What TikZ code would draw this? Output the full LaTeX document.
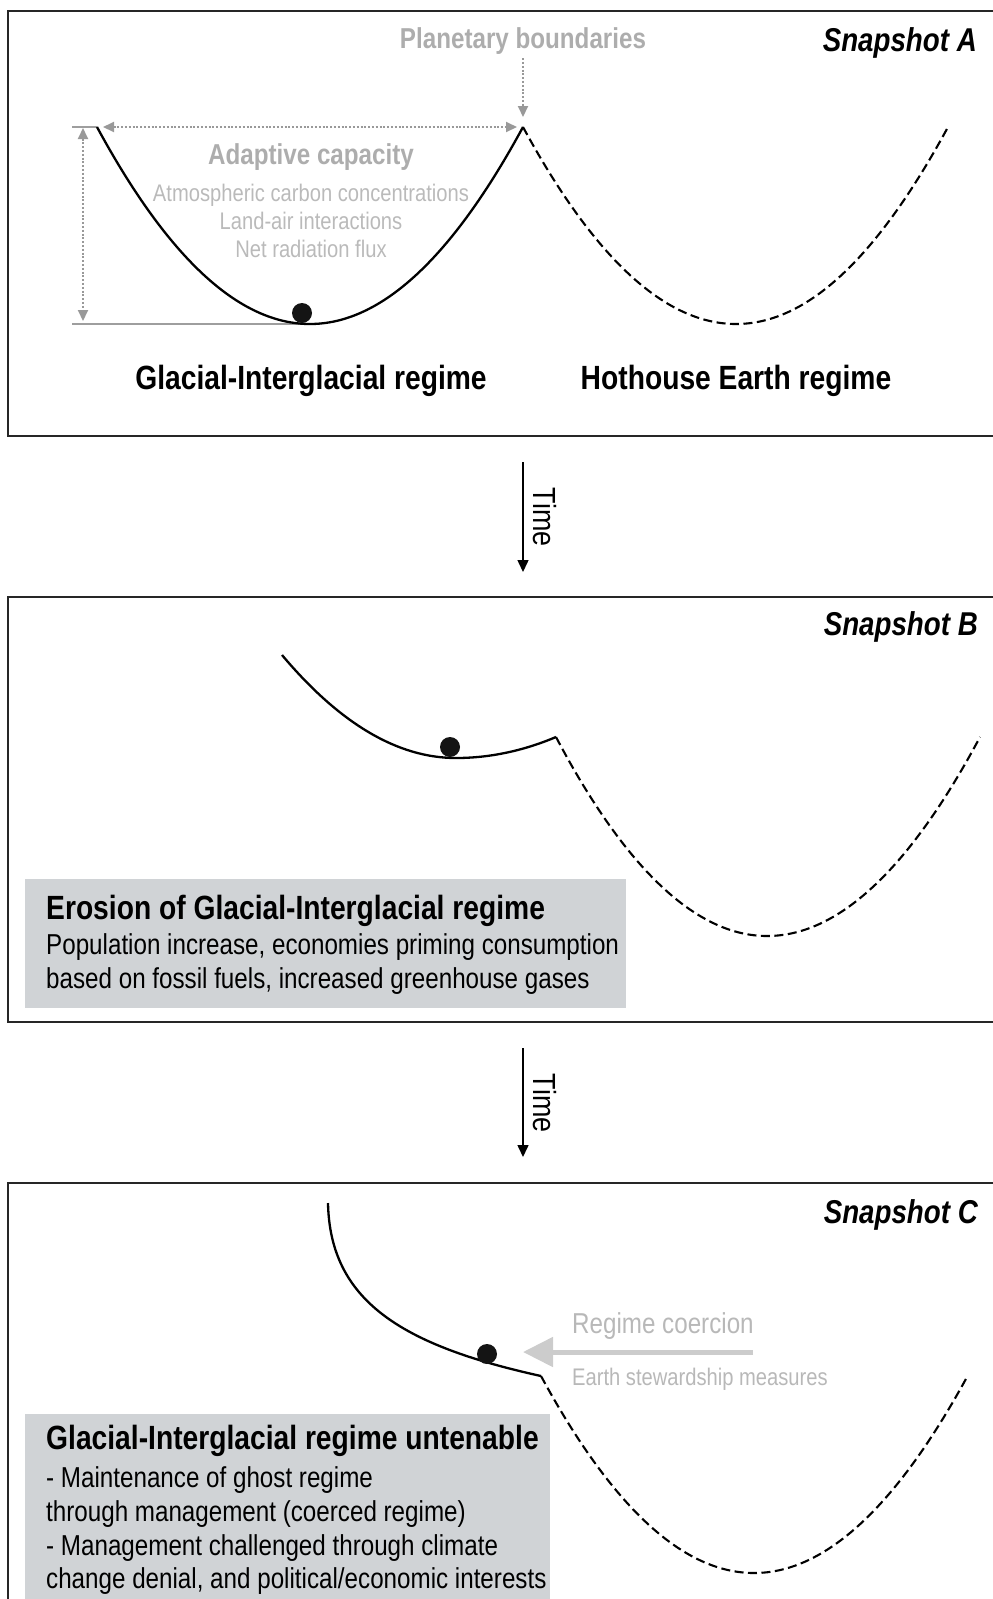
\documentclass[tikz,border=0pt]{standalone}
\usepackage{fontspec}
\setmainfont{Liberation Sans}[FakeStretch=0.84]
\usetikzlibrary{arrows.meta}
\definecolor{boxgray}{RGB}{208,211,214}

\begin{document}
\begin{tikzpicture}[x=1pt,y=-1pt,
  panel/.style={draw=black!85,line width=2pt},
  well/.style={draw=black,line width=2.3pt},
  ghost/.style={draw=black,line width=2.1pt,dash pattern=on 9pt off 4.5pt},
  ball/.style={circle,fill=black!92,inner sep=0pt,minimum size=20pt},
  guide/.style={draw=black!38,line width=2pt},
  dotarrow/.style={draw=black!40,line width=2pt,dash pattern=on 2pt off 1.8pt,
    arrows={Triangle[length=11pt,width=10pt]-Triangle[length=11pt,width=10pt]}},
  timearrow/.style={draw=black,line width=1.5pt,-{Triangle[length=12pt,width=11pt]}},
  push/.style={draw=black!20,line width=5pt,-{Triangle[length=30pt,width=29pt]}},
  snap/.style={font=\fontsize{33}{40}\selectfont\bfseries\itshape,anchor=base east,inner sep=0pt},
  regime/.style={font=\fontsize{33.6}{40}\selectfont\bfseries,anchor=base,inner sep=0pt},
  faint/.style={text=black!32,anchor=base,inner sep=0pt},
  faintbig/.style={faint,font=\fontsize{28.8}{34}\selectfont\bfseries},
  faintsmall/.style={faint,text=black!27,font=\fontsize{24}{29}\selectfont},
  boxhead/.style={font=\fontsize{33.6}{40}\selectfont\bfseries,anchor=base west,inner sep=0pt},
  boxtext/.style={font=\fontsize{28.8}{34}\selectfont,anchor=base west,inner sep=0pt},
  timetext/.style={font=\fontsize{32}{38}\selectfont,rotate=-90,anchor=base,inner sep=0pt},
]
\useasboundingbox (0,0) rectangle (993,1599);

% Snapshot A
\draw[panel] (8,11) rectangle (1015,436);
\node[snap] (snapA) at (977,51) {Snapshot A};
\node[faintbig] (planetary) at (523,48) {Planetary boundaries};
\coordinate (rimA) at (97,127);
\coordinate (floorA) at (310,324);
\coordinate (peakA) at (523,127);
\coordinate (hotfloorA) at (736,324);
\coordinate (hotrimA) at (948,127);
\coordinate (tickA) at (72,127);
\coordinate (baseA) at (72,324);
\coordinate (spanT) at (83,127);
\coordinate (spanB) at (83,324);
\draw[guide] (tickA) -- (rimA);
\draw[guide] (baseA) -- (floorA);
\draw[dotarrow,shorten <=1pt,shorten >=3pt] (spanT) -- (spanB);
\draw[dotarrow,shorten <=6pt,shorten >=6pt] (rimA) -- (peakA);
\draw[dotarrow,arrows={-Triangle[length=11pt,width=10pt]},shorten <=4pt,shorten >=10pt]
  (planetary.south) -- (peakA);
\draw[well] (rimA) .. controls (168,258) and (239,324) .. (floorA)
  .. controls (381,324) and (452,258) .. (peakA);
\draw[ghost] (peakA) .. controls (594,258) and (665,324) .. (hotfloorA)
  .. controls (807,324) and (877,258) .. (hotrimA);
\node[ball] (ballA) at (302,313) {};
\node[faintbig] (adaptive) at (311,164) {Adaptive capacity};
\node[faintsmall] (carbon) at (311,201) {Atmospheric carbon concentrations};
\node[faintsmall] (landair) at (311,229) {Land-air interactions};
\node[faintsmall] (radiation) at (311,257) {Net radiation flux};
\node[regime] (glacialA) at (311,389) {Glacial-Interglacial regime};
\node[regime] (hothouseA) at (736,389) {Hothouse Earth regime};

% Time
\coordinate (timeAs) at (523,462);
\coordinate (timeAe) at (523,572);
\draw[timearrow] (timeAs) -- (timeAe);
\node[timetext] (timeA) at (533,517) {Time};

% Snapshot B
\draw[panel] (8,597) rectangle (1015,1022);
\node[snap] (snapB) at (978,635) {Snapshot B};
\coordinate (rimB) at (282,655);
\coordinate (floorB) at (456,758);
\coordinate (kinkB) at (556,737);
\coordinate (hotfloorB) at (767,936);
\coordinate (hotrimB) at (980,737);
\draw[well] (rimB) .. controls (340,724) and (398,758) .. (floorB)
  .. controls (489,758) and (523,751) .. (kinkB);
\draw[ghost] (kinkB) .. controls (626,870) and (697,936) .. (hotfloorB)
  .. controls (838,936) and (909,870) .. (hotrimB);
\node[ball] (ballB) at (450,747) {};
\fill[boxgray] (25,879) rectangle (626,1008);
\node[boxhead] (erosion) at (46,919) {Erosion of Glacial-Interglacial regime};
\node[boxtext] (erosion1) at (46,954) {Population increase, economies priming consumption};
\node[boxtext] (erosion2) at (46,988) {based on fossil fuels, increased greenhouse gases};

% Time
\coordinate (timeBs) at (523,1048);
\coordinate (timeBe) at (523,1157);
\draw[timearrow] (timeBs) -- (timeBe);
\node[timetext] (timeB) at (533,1103) {Time};

% Snapshot C
\draw[panel] (8,1183) rectangle (1015,1620);
\node[snap] (snapC) at (978,1223) {Snapshot C};
\coordinate (rimC) at (328,1203);
\coordinate (kinkC) at (541,1376);
\coordinate (hotfloorC) at (754,1573);
\coordinate (hotrimC) at (967,1377);
\draw[well] (rimC) .. controls (330,1300) and (400,1345) .. (kinkC);
\draw[ghost] (kinkC) .. controls (612,1507) and (683,1573) .. (hotfloorC)
  .. controls (825,1573) and (896,1507) .. (hotrimC);
\node[ball] (ballC) at (487,1354) {};
\coordinate (pushS) at (753,1352);
\coordinate (pushE) at (523,1352);
\draw[push] (pushS) -- (pushE);
\node[faint,anchor=base west,text=black!28,font=\fontsize{28.8}{34}\selectfont]
  (coercion) at (572,1333) {Regime coercion};
\node[faintsmall,anchor=base west,text=black!28] (stewardship) at (572,1385)
  {Earth stewardship measures};
\fill[boxgray] (25,1414) rectangle (550,1610);
\node[boxhead] (untenable) at (46,1449) {Glacial-Interglacial regime untenable};
\node[boxtext] (untenable1) at (46,1487) {- Maintenance of ghost regime};
\node[boxtext] (untenable2) at (46,1521) {through management (coerced regime)};
\node[boxtext] (untenable3) at (46,1555) {- Management challenged through climate};
\node[boxtext] (untenable4) at (46,1588) {change denial, and political/economic interests};
\end{tikzpicture}
\end{document}
